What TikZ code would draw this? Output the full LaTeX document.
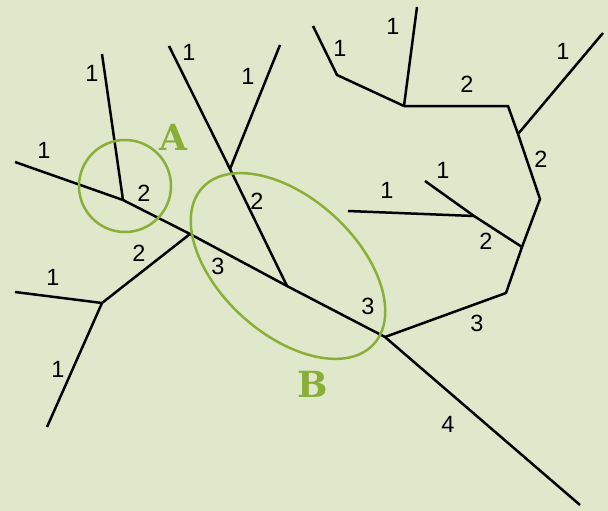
\documentclass[tikz,border=0pt]{standalone}
\usepackage{fontspec}
\setmainfont{Liberation Sans}
\newfontfamily\slabfont{DejaVu Serif}
\definecolor{bgc}{HTML}{E0E8CC}
\definecolor{grn}{HTML}{8AAE38}
\begin{document}
\begin{tikzpicture}[x=1pt,y=-1pt,
  seg/.style={line width=2.5pt, line join=miter, line cap=butt},
  num/.style={font=\fontsize{23.5}{23.5}\selectfont, inner sep=0pt},
  hilite/.style={draw=grn, line width=2.5pt},
  tag/.style={font=\slabfont\bfseries\fontsize{36}{36}\selectfont, text=grn, inner sep=0pt}]
\fill[bgc] (0,0) rectangle (608,511);
\useasboundingbox (0,0) rectangle (608,511);
% junctions and ends
\coordinate (l1) at (15,162);
\coordinate (l2) at (102,54);
\coordinate (j1) at (123,200);
\coordinate (j2) at (190,234);
\coordinate (l3) at (15,292);
\coordinate (l4) at (47,427);
\coordinate (j3) at (102,303);
\coordinate (l5) at (169,46);
\coordinate (l6) at (280,45);
\coordinate (j5) at (230,169);
\coordinate (j4) at (287,286);
\coordinate (j6) at (385,337);
\coordinate (out) at (580,505);
\coordinate (k1) at (506,293);
\coordinate (k2) at (522,247);
\coordinate (l7) at (348,211);
\coordinate (l8) at (425,181);
\coordinate (k3) at (474,216);
\coordinate (k4) at (540,199);
\coordinate (k5) at (518,134);
\coordinate (l9) at (603,33);
\coordinate (k6) at (508,106);
\coordinate (k7) at (404,106);
\coordinate (l10) at (417,7);
\coordinate (l11) at (313,26);
\coordinate (k8) at (337,75);
% segments
\draw[seg] (l1) -- (j1);
\draw[seg] (l2) -- (j1);
\draw[seg] (j1) -- (j2);
\draw[seg] (l3) -- (j3);
\draw[seg] (l4) -- (j3);
\draw[seg] (j3) -- (j2);
\draw[seg] (j2) -- (j4);
\draw[seg] (l5) -- (j5);
\draw[seg] (l6) -- (j5);
\draw[seg] (j5) -- (j4);
\draw[seg] (j4) -- (j6);
\draw[seg] (j6) -- (out);
\draw[seg] (j6) -- (k1) -- (k2);
\draw[seg] (l7) -- (k3);
\draw[seg] (l8) -- (k3);
\draw[seg] (k3) -- (k2);
\draw[seg] (k2) -- (k4) -- (k5);
\draw[seg] (l9) -- (k5);
\draw[seg] (k5) -- (k6) -- (k7);
\draw[seg] (l10) -- (k7);
\draw[seg] (l11) -- (k8) -- (k7);
% labels
\node[num] (n1) at (44,150) {1};
\node[num] (n2) at (92,73) {1};
\node[num] (n3) at (144,193) {2};
\node[num] (n4) at (53,277) {1};
\node[num] (n5) at (58,369) {1};
\node[num] (n6) at (139,253) {2};
\node[num] (n7) at (218,266) {3};
\node[num] (n8) at (189,52) {1};
\node[num] (n9) at (248,76) {1};
\node[num] (n10) at (257,201) {2};
\node[num] (n11) at (368,306) {3};
\node[num] (n12) at (448,424) {4};
\node[num] (n13) at (477,323) {3};
\node[num] (n14) at (387,190) {1};
\node[num] (n15) at (443,170) {1};
\node[num] (n16) at (486,241) {2};
\node[num] (n17) at (541,159) {2};
\node[num] (n18) at (563,51) {1};
\node[num] (n19) at (467,84) {2};
\node[num] (n20) at (393,26) {1};
\node[num] (n21) at (340,48) {1};
% highlight marks
\coordinate (ca) at (125,186);
\draw[hilite] (ca) circle [radius=46pt];
\node[tag] (ta) at (173,137) {A};
\coordinate (cb) at (288,266);
\draw[hilite, rotate around={-42.3:(cb)}] (cb) ellipse [x radius=116pt, y radius=68pt];
\node[tag] (tb) at (313,384) {B};
\end{tikzpicture}
\end{document}
